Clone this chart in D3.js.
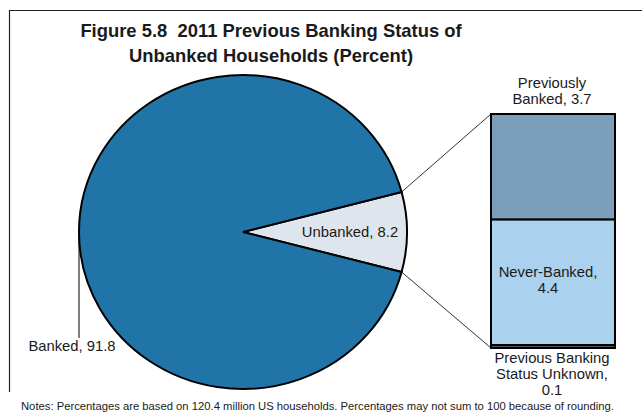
<!DOCTYPE html>
<html>
<head>
<meta charset="utf-8">
<script src="https://cdn.jsdelivr.net/npm/d3@7"></script>
<style>
  body { margin: 0; background: #fff; }
  text { font-family: "Liberation Sans", Arial, sans-serif; fill: #1a1a1a; white-space: pre; }
</style>
</head>
<body>
<div id="chart"></div>
<script>
(function() {

// data
const pieLabels = ["Unbanked", "Banked"];
const pieValues = [8.2, 91.8];
const pieColors = ["#dfe5ec", "#2174a8"];

const barLabels = ["Previously Banked", "Never-Banked", "Previous Banking Status Unknown"];
const barValues = [3.7, 4.4, 0.1];
const barColors = ["#7b9fba", "#aad1ee", "#5a6a78"];

const titleLines = ["Figure 5.8  2011 Previous Banking Status of", "Unbanked Households (Percent)"];
const note = "Notes: Percentages are based on 120.4 million US households. Percentages may not sum to 100 because of rounding.";

const W = 642, H = 414;

const svg = d3.select("#chart")
  .append("svg")
  .attr("width", W)
  .attr("height", H);

// frame (right and bottom edges fall outside the picture)
svg.append("path")
  .attr("d", "M9.5,392 L9.5,10.5 L642,10.5")
  .attr("fill", "none")
  .attr("stroke", "#222")
  .attr("stroke-width", 1.2);

// title
svg.append("text")
  .attr("x", 271)
  .attr("y", 37)
  .attr("text-anchor", "middle")
  .style("font-size", "18.4px")
  .style("font-weight", "bold")
  .selectAll("tspan")
  .data(titleLines)
  .join("tspan")
  .attr("x", 271)
  .attr("dy", (d, i) => i === 0 ? 0 : 25)
  .text(d => d);

// pie (slightly wider than tall, as in the picture)
const cx = 243, cy = 232, rx = 164, ry = 157;
const unbankedAngle = pieValues[0] / d3.sum(pieValues) * 2 * Math.PI;

const pie = d3.pie()
  .sort(null)
  .startAngle(Math.PI / 2 - unbankedAngle / 2)
  .endAngle(Math.PI / 2 - unbankedAngle / 2 + 2 * Math.PI);

const arc = d3.arc().innerRadius(0).outerRadius(rx);
const arcs = pie(pieValues);

const pieG = svg.append("g")
  .attr("transform", `translate(${cx},${cy}) scale(1,${ry / rx})`);

pieG.selectAll("path")
  .data(arcs)
  .join("path")
  .attr("d", arc)
  .attr("fill", (d, i) => pieColors[i])
  .attr("stroke", "#000")
  .attr("stroke-width", 2)
  .attr("stroke-linejoin", "miter")
  .attr("vector-effect", "non-scaling-stroke");

const edge = a => [cx + rx * Math.sin(a), cy - ry * Math.cos(a)];

// stacked bar for the unbanked breakdown
const barX0 = 491, barX1 = 615;
const y = d3.scaleLinear()
  .domain([0, d3.sum(barValues)])
  .range([114, 348]);

let acc = 0;
const segs = barValues.map((v, i) => {
  const s = { i, y0: acc, y1: acc + v };
  acc += v;
  return s;
});

svg.selectAll("rect.seg")
  .data(segs)
  .join("rect")
  .attr("class", "seg")
  .attr("x", barX0)
  .attr("y", d => y(d.y0))
  .attr("width", barX1 - barX0)
  .attr("height", d => y(d.y1) - y(d.y0))
  .attr("fill", d => barColors[d.i])
  .attr("stroke", "#000")
  .attr("stroke-width", 2);

// connector lines from the slice to the bar
const top = edge(arcs[0].startAngle), bot = edge(arcs[0].endAngle);
svg.append("line")
  .attr("x1", top[0]).attr("y1", top[1])
  .attr("x2", barX0).attr("y2", y(0))
  .attr("stroke", "#000").attr("stroke-width", 0.8);
svg.append("line")
  .attr("x1", bot[0]).attr("y1", bot[1])
  .attr("x2", barX0).attr("y2", y(d3.sum(barValues)))
  .attr("stroke", "#000").attr("stroke-width", 0.8);

// leader for Banked
svg.append("line")
  .attr("x1", cx - rx).attr("y1", cy)
  .attr("x2", cx - rx).attr("y2", 338)
  .attr("stroke", "#000").attr("stroke-width", 1);

// labels
const label = (x, yy, lines) => {
  const t = svg.append("text")
    .attr("text-anchor", "middle")
    .style("font-size", "14.8px");
  lines.forEach((l, i) => {
    t.append("tspan").attr("x", x).attr("y", yy + i * 16).text(l);
  });
};

label(72, 351, [`${pieLabels[1]}, ${pieValues[1]}`]);
label(350, 237, [`${pieLabels[0]}, ${pieValues[0]}`]);
label(552, 88, ["Previously", `Banked, ${barValues[0]}`]);
label(548, 277, [`${barLabels[1]},`, `${barValues[1]}`]);
label(552, 363, ["Previous Banking", "Status Unknown,", `${barValues[2]}`]);

// note
svg.append("text")
  .attr("x", 21)
  .attr("y", 410)
  .style("font-size", "11.25px")
  .text(note);

})();
</script>
</body>
</html>
